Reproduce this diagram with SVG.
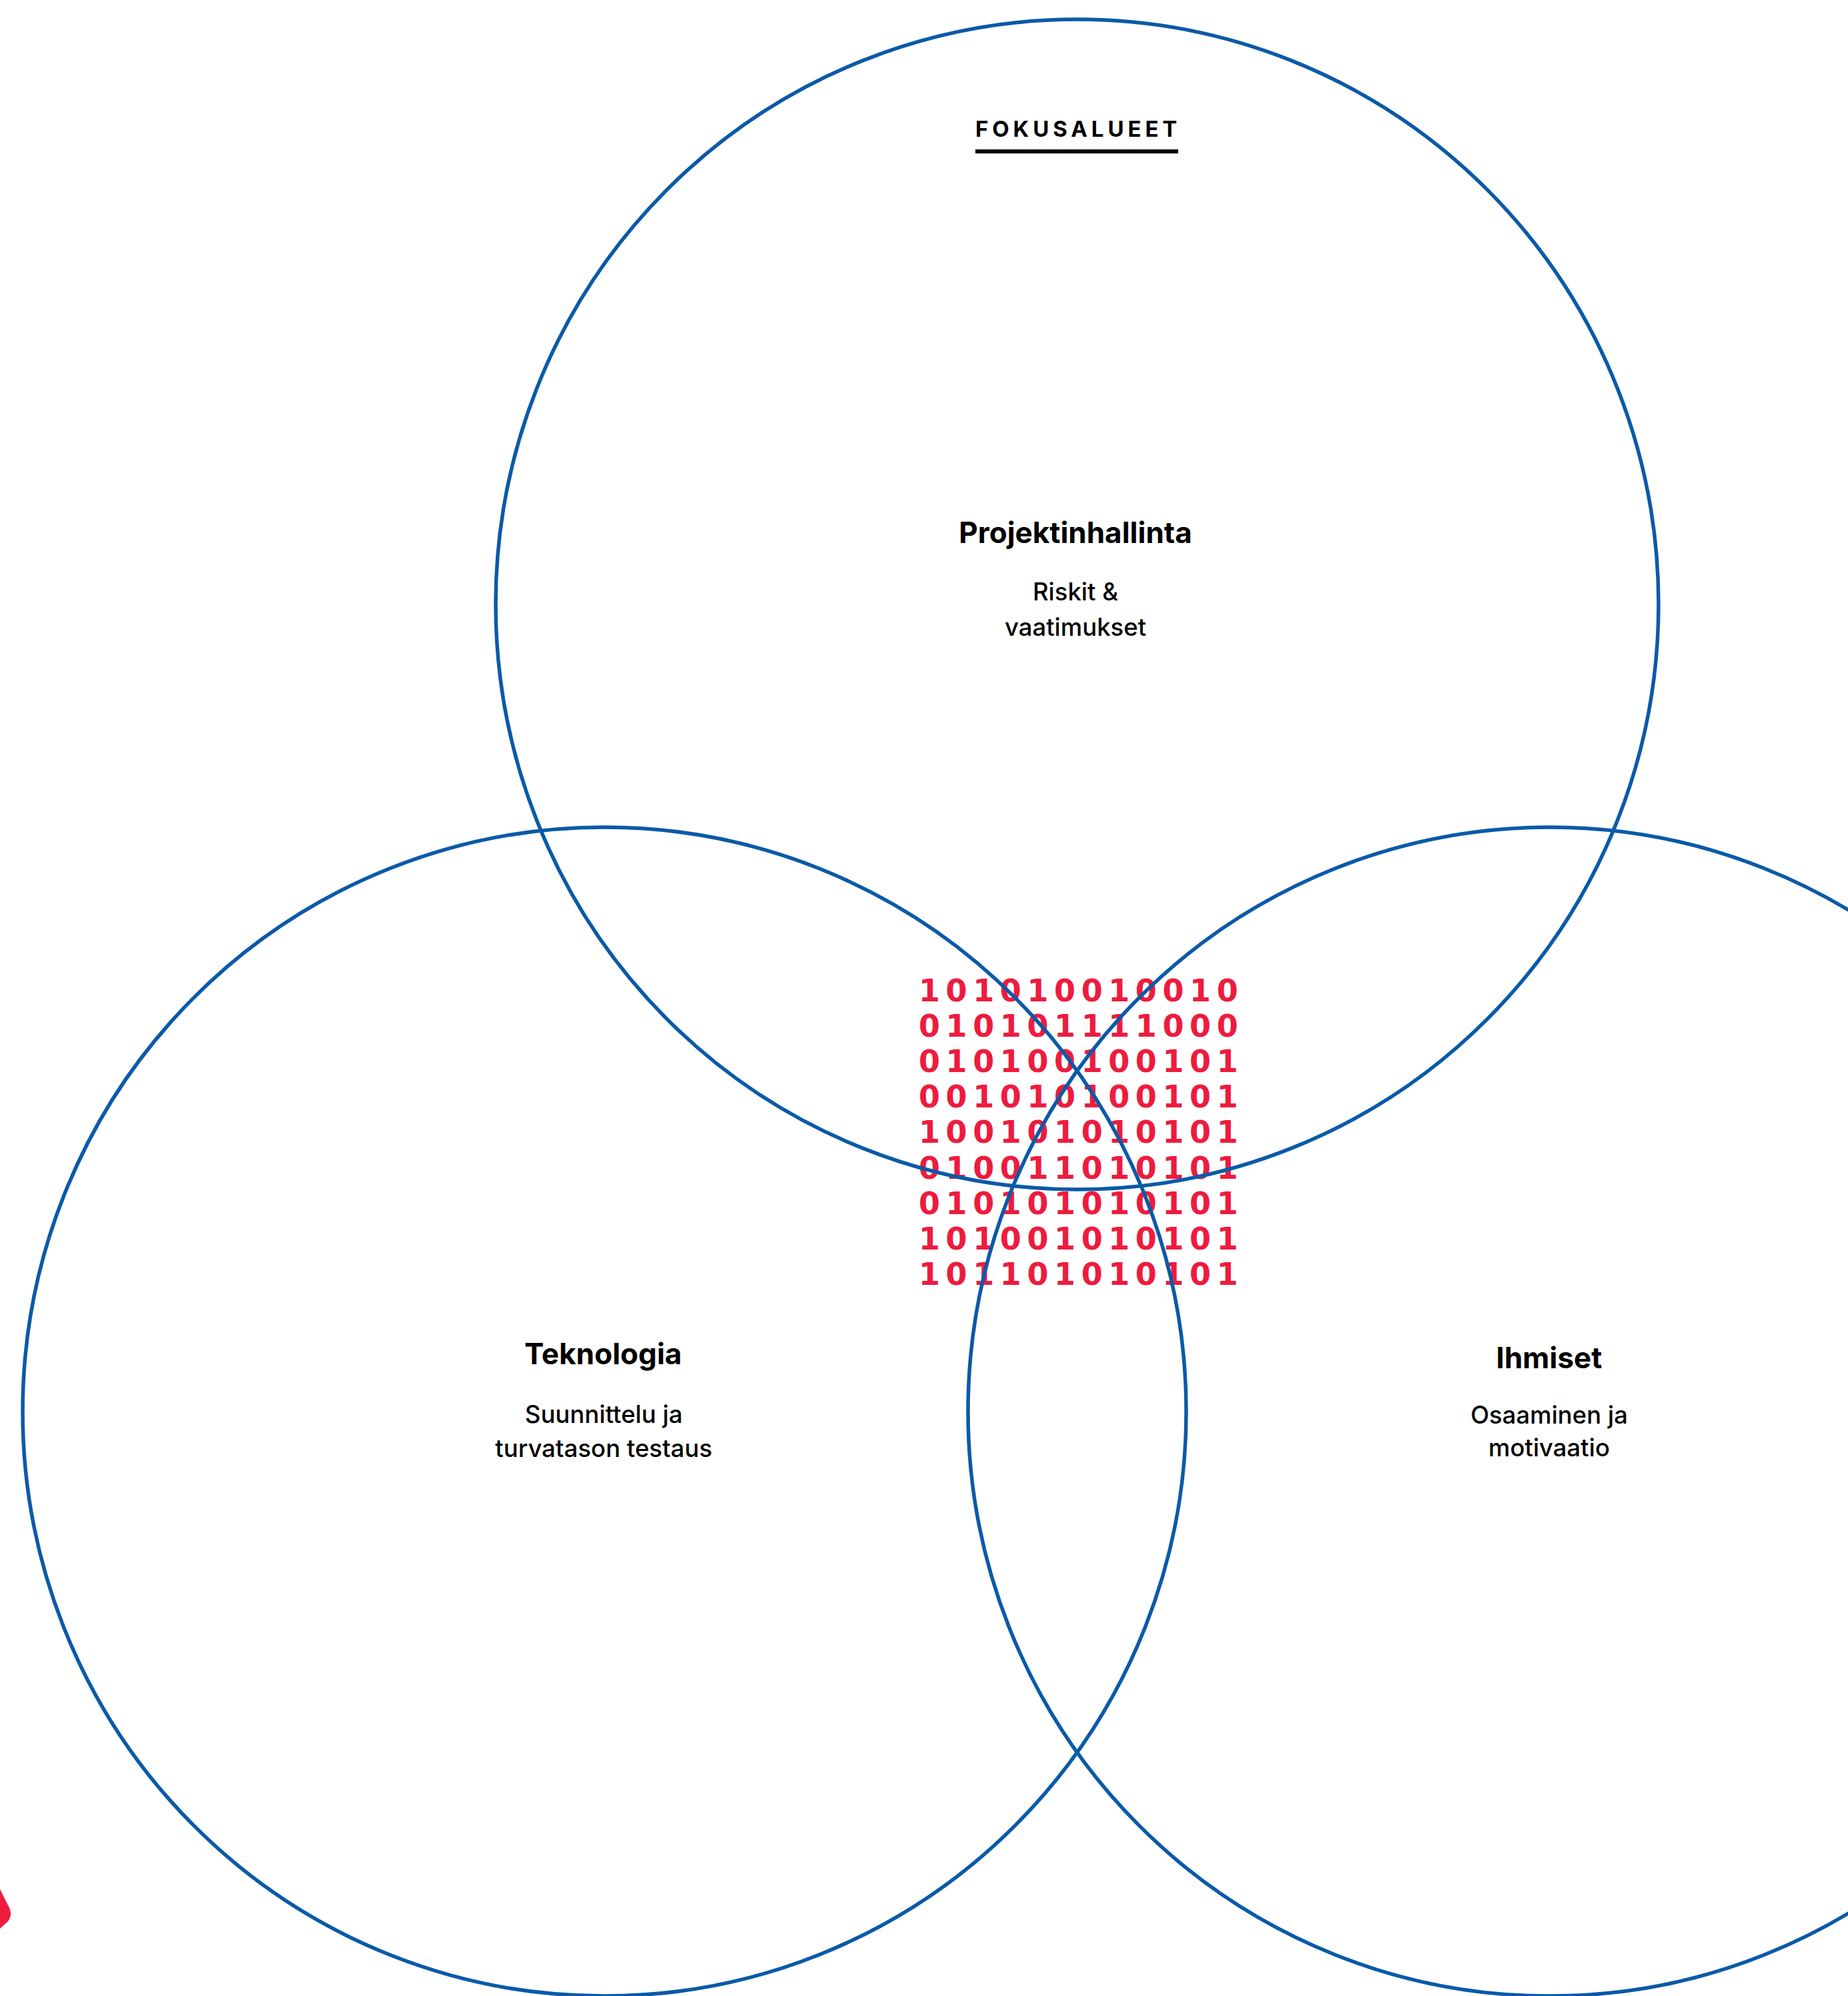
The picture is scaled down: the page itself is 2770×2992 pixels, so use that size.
<svg xmlns="http://www.w3.org/2000/svg" width="2770" height="2992" viewBox="0 0 2770 2992">
<style>
.ring{fill:none;stroke:#0a5aa8;stroke-width:5.5}
.head{font-family:Inter,"Open Sans",sans-serif;font-weight:700;font-size:44px;fill:#000;text-anchor:middle}
.sub{font-family:Inter,"Open Sans",sans-serif;font-weight:500;font-size:36.5px;fill:#000;text-anchor:middle}
.bin{font-family:"DejaVu Sans",sans-serif;font-weight:700;font-size:46px;fill:#ee1b3e;letter-spacing:8.6px}
.title{font-family:Inter,"Open Sans",sans-serif;font-weight:700;font-size:33px;fill:#000;letter-spacing:5.9px}
</style>
<rect width="2770" height="2992" fill="#fff"/>
<g id="title">
<text class="title" x="1462" y="205">FOKUSALUEET</text>
<rect x="1462" y="224" width="304" height="6" fill="#000"/>
</g>
<g id="binary" class="bin">
<text x="1377" y="1501">101010010010</text>
<text x="1377" y="1554">010101111000</text>
<text x="1377" y="1607">010100100101</text>
<text x="1377" y="1660">001010100101</text>
<text x="1377" y="1713">100101010101</text>
<text x="1377" y="1767">010011010101</text>
<text x="1377" y="1820">010101010101</text>
<text x="1377" y="1873">101001010101</text>
<text x="1377" y="1926">101101010101</text>
</g>
<g id="deco">
<path d="M0,2832 L12,2856 Q20,2869 12,2880 L0,2891 Z" fill="#ee1b3e"/>
</g>
<g id="connectors"></g>
<g id="projektinhallinta">
<ellipse class="ring" cx="1614.5" cy="906" rx="871.5" ry="877"/>
<text class="head" x="1612" y="814">Projektinhallinta</text>
<text class="sub" x="1612" y="900">Riskit &amp;</text>
<text class="sub" x="1612" y="953">vaatimukset</text>
</g>
<g id="teknologia">
<ellipse class="ring" cx="906" cy="2116" rx="872" ry="876"/>
<text class="head" x="904" y="2045">Teknologia</text>
<text class="sub" x="905" y="2133">Suunnittelu ja</text>
<text class="sub" x="905" y="2184">turvatason testaus</text>
</g>
<g id="ihmiset">
<ellipse class="ring" cx="2323" cy="2116" rx="872" ry="876"/>
<text class="head" x="2322" y="2051">Ihmiset</text>
<text class="sub" x="2322" y="2134">Osaaminen ja</text>
<text class="sub" x="2322" y="2183">motivaatio</text>
</g>
</svg>
